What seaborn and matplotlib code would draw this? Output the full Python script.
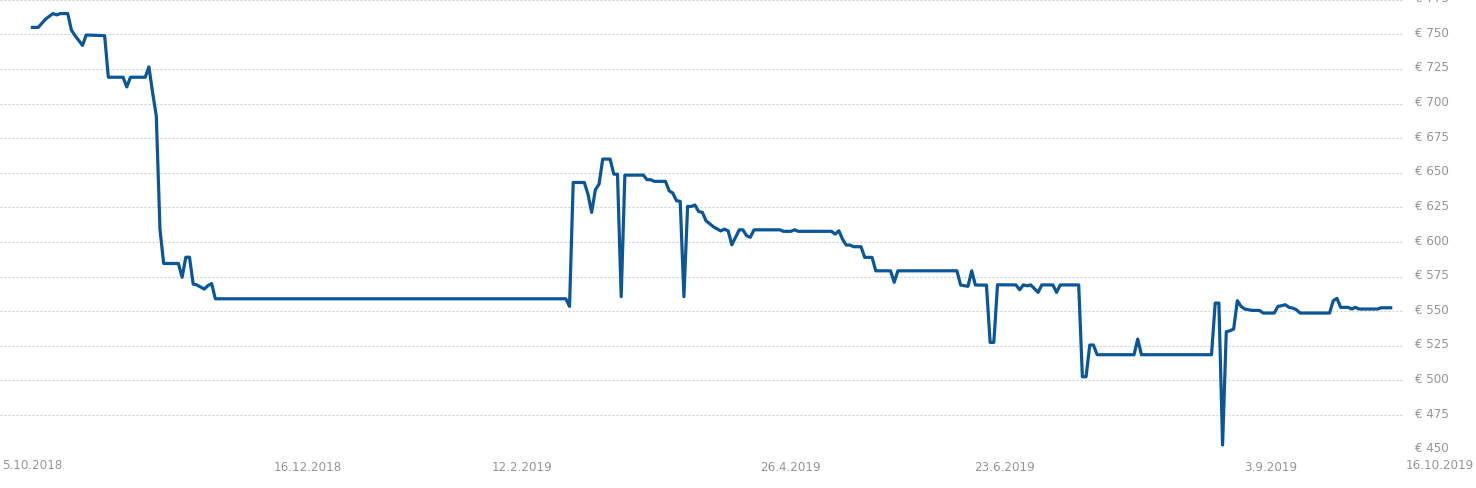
import pandas as pd
import numpy as np
import matplotlib
matplotlib.use('Agg')
import matplotlib.pyplot as plt
import matplotlib.dates as mdates
import matplotlib.transforms as mtransforms
import seaborn as sns

#==========================DATA==============================
startDate = '2018-10-02'

# days since startDate
day = [0, 2, 4, 6, 7, 8, 10, 11, 12, 14, 15, 20, 21, 25, 26, 27, 31, 32, 33, 34,
       35, 36, 40, 41, 42, 43, 44, 45, 47, 48, 49, 50, 145, 146, 147, 150, 151, 152,
       153, 154, 155, 157, 158, 159, 160, 161, 166, 167, 168, 169, 172, 173, 174,
       175, 176, 177, 178, 179, 180, 181, 182, 183, 185, 186, 187, 188, 189, 190,
       191, 192, 193, 194, 195, 196, 203, 204, 206, 207, 208, 217, 218, 219, 220,
       221, 222, 223, 225, 226, 228, 229, 233, 234, 235, 251, 252, 254, 255, 256,
       259, 260, 261, 262, 267, 268, 269, 270, 271, 273, 274, 277, 278, 279, 284,
       285, 286, 287, 288, 289, 299, 300, 301, 320, 321, 322, 323, 324, 325, 326,
       327, 328, 329, 331, 333, 334, 337, 338, 339, 340, 341, 342, 343, 344, 352,
       353, 354, 355, 357, 358, 359, 360, 365, 366, 369]

price = [755, 755, 761, 765, 764, 765, 765, 753, 749, 742, 749.5, 749, 719, 719, 712,
         719, 719, 726.5, 708, 691, 609, 584.5, 584.5, 574.5, 589, 589, 569.6, 569,
         566, 568.5, 570, 559, 559, 553.5, 643, 643, 634.6, 621.4, 637.7, 641.8,
         659.9, 659.9, 649, 649, 560.5, 648.3, 648.3, 645, 645, 643.8, 643.8, 637,
         635.3, 629.8, 629.4, 560.5, 625.7, 625.7, 626.7, 622, 621.4, 615.3, 611,
         609.5, 608, 609.3, 608, 598, 603.4, 608.8, 608.8, 604.5, 603.4, 608.8,
         608.8, 607.7, 607.7, 608.8, 607.7, 607.7, 605.7, 608.1, 602, 597.8, 597.8,
         596.6, 596.6, 588.9, 588.9, 579.2, 579.2, 570.9, 579.2, 579.2, 568.9, 568,
         579.2, 568.9, 568.9, 527.5, 527.5, 569.1, 569, 565.5, 569, 568.4, 569,
         563.6, 569, 569, 563.6, 569, 569, 502.7, 502.7, 525.6, 525.6, 518.6, 518.6,
         529.9, 518.6, 518.6, 555.9, 555.9, 453.4, 535.2, 535.9, 537.1, 557.6, 553.5,
         551.6, 550.6, 550.6, 548.7, 548.7, 553.5, 554, 554.7, 552.8, 552.3, 551.1,
         548.7, 548.7, 557.6, 559.3, 552.8, 552.8, 551.6, 552.8, 551.6, 551.6, 552.5,
         552.5]

priceTicks = [450, 475, 500, 525, 550, 575, 600, 625, 650, 675, 700, 725, 750, 775]
dateTicks = ['2018-12-16', '2019-02-12', '2019-04-26', '2019-06-23', '2019-09-03']
firstLabel = '5.10.2018'
lastLabel = '16.10.2019'

lineColor = '#0b5699'
textColor = '#959595'
gridColor = '#cfcfcf'

#==========================PLOT==============================
sns.set_style('white')
plt.rcParams['font.family'] = ['DejaVu Sans']

d = pd.DataFrame({'date': pd.Timestamp(startDate) + pd.to_timedelta(day, unit='D'),
                  'price': price})

fig = plt.figure(figsize=(14.76, 4.89), dpi=100)
ax = fig.add_axes([0, 38.3 / 489, 1403 / 1476, 450 / 489])

sns.lineplot(data=d, x='date', y='price', ax=ax, color=lineColor,
             linewidth=2.3, solid_joinstyle='round', solid_capstyle='butt')

start = pd.Timestamp(startDate)
ax.set_xlim(start - pd.Timedelta(days=8.36), start + pd.Timedelta(days=371.9))
ax.set_ylim(450, 775)

ax.set_yticks(priceTicks)
ax.set_yticklabels(['€ {}'.format(p) for p in priceTicks])
ax.yaxis.tick_right()
ax.set_xticks([mdates.date2num(pd.Timestamp(t)) for t in dateTicks])
ax.set_xticklabels([pd.Timestamp(t).strftime('%-d.%-m.%Y') for t in dateTicks])

ax.tick_params(axis='y', length=0, pad=8.6, labelsize=8.6, labelcolor=textColor)
ax.tick_params(axis='x', length=0, pad=7.5, labelsize=8.6, labelcolor=textColor)
shift = mtransforms.ScaledTranslation(0, 3.5 / 100, fig.dpi_scale_trans)
for lbl in ax.get_yticklabels():
    lbl.set_transform(lbl.get_transform() + shift)

ax.grid(axis='y', color=gridColor, linestyle=(0, (1.8, 1.8)), linewidth=0.8)
ax.grid(axis='x', visible=False)
ax.set_axisbelow(True)
for s in ax.spines.values():
    s.set_visible(False)
ax.set_xlabel('')
ax.set_ylabel('')

# end labels sit at the chart edges
fig.text(2 / 1476, 1 - 466 / 489, firstLabel, ha='left', va='center',
         fontsize=8.6, color=textColor)
fig.text(1474 / 1476, 1 - 466 / 489, lastLabel, ha='right', va='center',
         fontsize=8.6, color=textColor)

fig.savefig('out.png', dpi=100, facecolor='white')
